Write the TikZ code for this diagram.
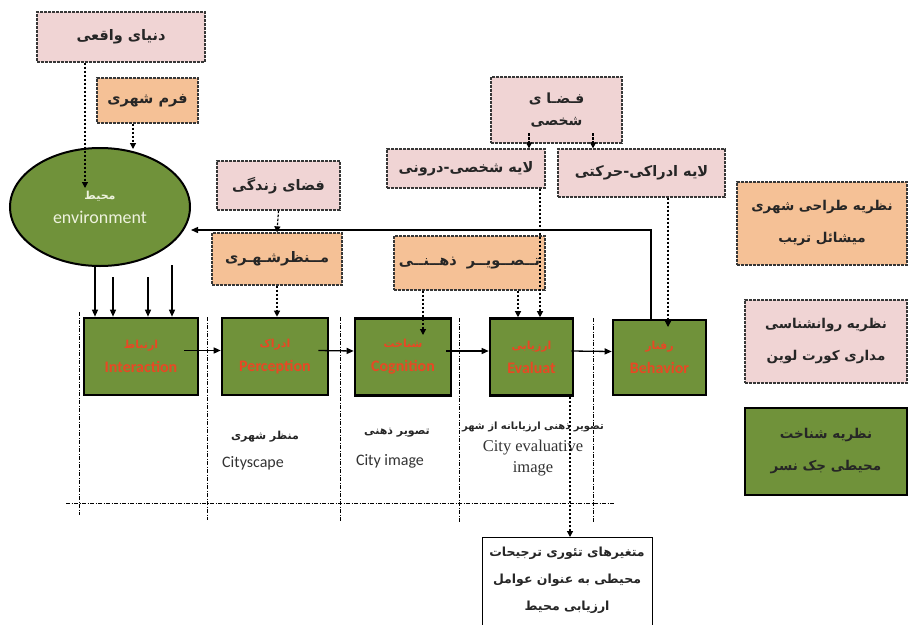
\documentclass[tikz,border=0pt]{standalone}
\usepackage{fontspec}
\setmainfont{Carlito}
\newfontfamily\farsifont[Script=Arabic]{DejaVu Sans}
\newfontfamily\serifen{Liberation Serif}
\usetikzlibrary{arrows.meta,shapes.geometric}
\TeXXeTstate=1
\newcommand{\fatxt}[1]{{\farsifont\beginR #1\endR}}

\definecolor{pinkfill}{RGB}{240,212,212}
\definecolor{orangefill}{RGB}{245,193,150}
\definecolor{greenfill}{RGB}{112,146,58}
\definecolor{redtxt}{RGB}{232,72,36}
\definecolor{boxline}{RGB}{55,55,55}
\definecolor{envtxt}{RGB}{238,242,222}

\tikzset{
  pinkbox/.style={draw=boxline, line width=1.3pt, dash pattern=on 3pt off 1pt,
    fill=pinkfill, align=center, text=black!85, font=\fontsize{14.5}{17}\selectfont\bfseries},
  orangebox/.style={pinkbox, fill=orangefill},
  greenbox/.style={draw=black, line width=2.6pt, fill=greenfill, align=center,
    text=redtxt, font=\fontsize{16}{18}\selectfont\bfseries,
    minimum height=77pt},
  legendbox/.style={draw=boxline, line width=1.3pt, dash pattern=on 3pt off 1pt,
    align=center, text=black!85, font=\fontsize{13.5}{32}\selectfont\bfseries},
  dasharrow/.style={line width=1.2pt, dash pattern=on 2.5pt off 1.5pt,
    -{Triangle[length=6pt,width=6pt]}},
  solidarrow/.style={line width=1.3pt, -{Triangle[length=7pt,width=6pt]}},
  sepline/.style={line width=1pt, dash pattern=on 4pt off 1.5pt on 1pt off 1.5pt},
  lbl/.style={font=\fontsize{16}{18}\selectfont, text=black!80},
  lblfa/.style={font=\fontsize{11}{13}\selectfont\bfseries, text=black!85}
}

\begin{document}
\begin{tikzpicture}[x=1pt,y=-1pt]
\useasboundingbox (0,0) rectangle (909,624);

% column separators
\draw[sepline] (79,312) -- (79,515);
\draw[sepline] (207,317) -- (207,520);
\draw[sepline] (340,317) -- (340,522);
\draw[sepline] (459,318) -- (459,522);
\draw[sepline] (593,318) -- (593,522);
\draw[sepline] (66,503) -- (615,503);

% top boxes
\node[pinkbox, minimum width=168pt, minimum height=50pt] (real) at (121,37) {\fatxt{دنیای واقعی}};
\node[orangebox, minimum width=101pt, minimum height=45pt] (form) at (147.5,100.5) {\fatxt{فرم شهری}};
\node[pinkbox, minimum width=123pt, minimum height=49pt] (life) at (278.5,185.5) {\fatxt{فضای زندگی}};
\node[orangebox, minimum width=130pt, minimum height=52pt] (scape) at (277,259) {\fatxt{مــنظرشـهـری}};
\node[orangebox, minimum width=151pt, minimum height=54pt] (mind) at (469.5,263) {\fatxt{تــصــویــر\ \ ذهــنــی}};
\node[pinkbox, minimum width=131pt, minimum height=66pt, font=\fontsize{14}{22}\selectfont\bfseries] (personal) at (556.5,110) {\fatxt{فـضـا ی}\\\fatxt{شخصی}};
\node[pinkbox, minimum width=158pt, minimum height=39pt] (inner) at (466,168.5) {\fatxt{لایه شخصی-درونی}};
\node[pinkbox, minimum width=167pt, minimum height=48pt] (motor) at (641.5,173) {\fatxt{لایه ادراکی-حرکتی}};

% environment
\node[ellipse, draw=black, line width=2pt, fill=greenfill, minimum width=180pt, minimum height=118pt,
  align=center, text=envtxt, font=\fontsize{18}{20}\selectfont] (env) at (100,207)
  {{\fontsize{11}{12}\selectfont\bfseries\fatxt{محیط}}\\[4pt]environment};

% process boxes
\node[greenbox, minimum width=114pt] (inter) at (141,356.5) {{\fontsize{11}{12}\selectfont\fatxt{ارتباط}}\\[6pt]Interaction};
\node[greenbox, minimum width=106pt] (perc) at (275,356.5) {{\fontsize{11}{12}\selectfont\fatxt{ادراک}}\\[6pt]Perception};
\node[greenbox, minimum width=96pt] (cogn) at (403,357) {{\fontsize{11}{12}\selectfont\fatxt{شناخت}}\\[6pt]Cognition};
\node[greenbox, minimum width=83pt] (evalb) at (531.5,357) {{\fontsize{11}{12}\selectfont\fatxt{ارزیابی}}\\[6pt]Evaluat};
\node[greenbox, minimum width=93pt, minimum height=75pt] (behav) at (659.5,357.5) {{\fontsize{11}{12}\selectfont\fatxt{رفتار}}\\[6pt]Behavior};

% legend
\node[legendbox, fill=orangefill, minimum width=170pt, minimum height=83pt] (leg1) at (822,223.5) {\fatxt{نظریه طراحی شهری}\\\fatxt{میشائل تریب}};
\node[legendbox, fill=pinkfill, minimum width=162pt, minimum height=83pt] (leg2) at (826,341.5) {\fatxt{نظریه روانشناسی}\\\fatxt{مداری کورت لوین}};
\node[legendbox, draw=black, solid, line width=2.2pt, fill=greenfill, minimum width=162pt, minimum height=87pt] (leg3) at (826,451.5) {\fatxt{نظریه شناخت}\\\fatxt{محیطی جک نسر}};

% labels under the columns
\node[lblfa] (scapefa) at (265,437) {\fatxt{منظر شهری}};
\node[lbl] (scapeen) at (253,463) {Cityscape};
\node[lblfa] (mindfa) at (397,433) {\fatxt{تصویر ذهنی}};
\node[lbl] (minden) at (390,461) {City image};
\node[lblfa, font=\fontsize{10}{12}\selectfont\bfseries] (evalfa) at (533,427) {\fatxt{تصویر ذهنی ارزیابانه از شهر}};
\node[lbl, font=\serifen\fontsize{16.5}{21}\selectfont, align=center] (evalen) at (533,458) {City evaluative\\image};

% bottom box
\node[draw=black, line width=1pt, minimum width=170pt, minimum height=102pt, anchor=north] (vars) at (567,537) {};
\node[align=center, text=black!85, font=\fontsize{12.5}{27}\selectfont\bfseries] (varstext) at (567,580)
  {\fatxt{متغیرهای تئوری ترجیحات}\\\fatxt{محیطی به عنوان عوامل}\\\fatxt{ارزیابی محیط}};

% free ends
\coordinate (realin) at (85,188);
\coordinate (formin) at (133,149);
\coordinate (cognin) at (423,335);
\coordinate (fb) at (651,230);
\coordinate (e1) at (95,265);
\coordinate (e2) at (113,277);
\coordinate (e3) at (148,277);
\coordinate (e4) at (172,265);
\coordinate (p1) at (529,133);
\coordinate (p2) at (593,133);

% dashed links
\draw[dasharrow] (realin |- real.south) -- (realin);
\draw[dasharrow] (formin |- form.south) -- (formin);
\draw[dasharrow] (life.south) -- (scape.north);
\draw[dasharrow] (scape.south) -- (scape.south |- perc.north);
\draw[dasharrow] (cognin |- mind.south) -- (cognin);
\draw[dasharrow] (mind.south -| 518,0) -- (evalb.north -| 518,0);
\draw[dasharrow] (inner.south -| 540,0) -- (evalb.north -| 540,0);
\draw[dasharrow] (p1) -- (p1 |- inner.north);
\draw[dasharrow] (p2) -- (p2 |- motor.north);
\draw[dasharrow] (motor.south -| 668,0) -- (668,327);
\draw[dasharrow] (evalb.south -| 570,0) -- (vars.north -| 570,0);

% solid links
\draw[solidarrow] (e1) -- (e1 |- inter.north);
\draw[solidarrow] (e2) -- (e2 |- inter.north);
\draw[solidarrow] (e3) -- (e3 |- inter.north);
\draw[solidarrow] (e4) -- (e4 |- inter.north);
\draw[solidarrow] ([xshift=-15pt,yshift=6pt]inter.east) -- ([yshift=6pt]perc.west);
\draw[solidarrow] ([xshift=-11pt,yshift=6pt]perc.east) -- ([yshift=6pt]cogn.west);
\draw[solidarrow] ([xshift=-6pt,yshift=6pt]cogn.east) -- ([yshift=6pt]evalb.west);
\draw[solidarrow] ([xshift=-3pt,yshift=6pt]evalb.east) -- ([yshift=6pt]behav.west);
\draw[solidarrow] (behav.north -| fb) -- (fb) -- (env.east |- fb);

\end{tikzpicture}
\end{document}
